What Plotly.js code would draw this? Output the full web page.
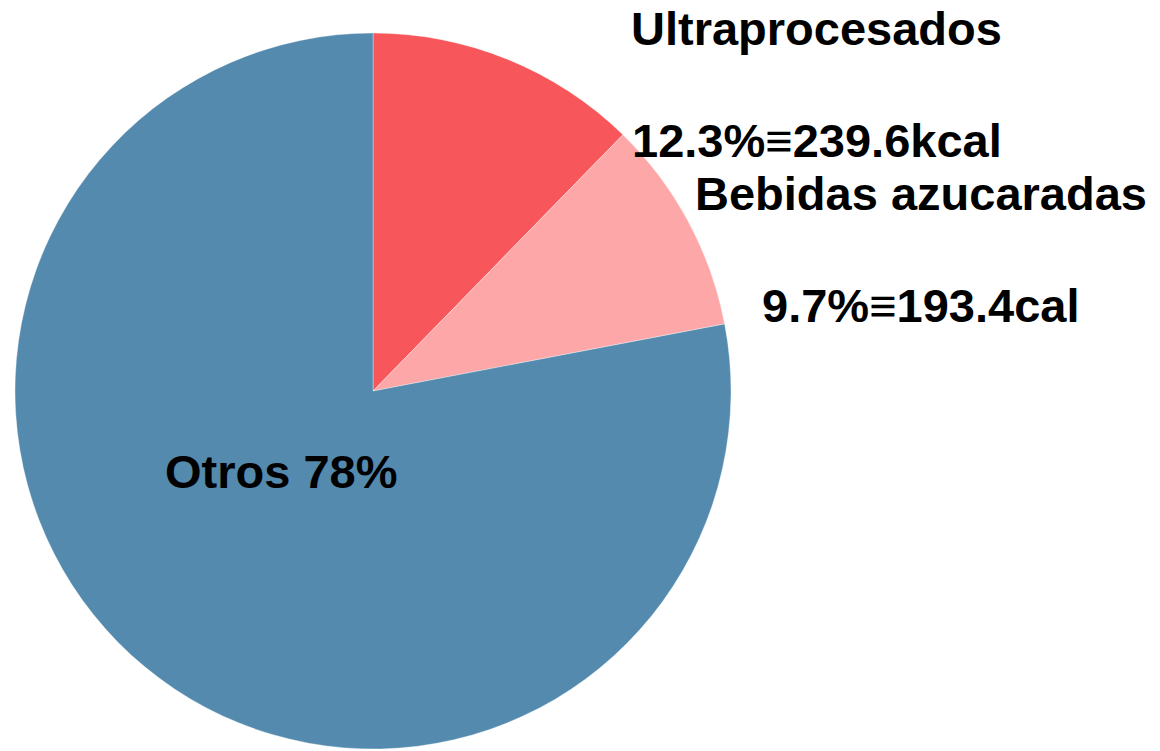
<!DOCTYPE html>
<html>
<head>
<meta charset="utf-8">
<script src="https://cdn.plot.ly/plotly-3.0.1.min.js"></script>
<style>html,body{margin:0;padding:0;background:#fff;}#chart{width:1160px;height:751px;}</style>
</head>
<body>
<div id="chart"></div>
<script>
const categories = ["Ultraprocesados", "Bebidas azucaradas", "Otros"];
const percentages = [12.3, 9.7, 78];
const sliceColors = ["#F7575A", "#FDA7A8", "#548AAE"];
const labelTexts = ["Ultraprocesados", "12.3%≡239.6kcal", "Bebidas azucaradas", "9.7%≡193.4cal", "Otros 78%"];

const W = 1160, H = 751;
const cx = 373, cy = 391, R = 358;

const trace = {
  type: "pie",
  labels: categories,
  values: percentages,
  sort: false,
  direction: "clockwise",
  rotation: 0,
  textinfo: "none",
  hoverinfo: "label+percent",
  marker: { colors: sliceColors, line: { color: "rgba(255,255,255,0.35)", width: 1 } },
  domain: { x: [(cx - R) / W, (cx + R) / W], y: [(H - (cy + R)) / H, (H - (cy - R)) / H] },
  showlegend: false
};

const font = { family: "Liberation Sans, Arial, sans-serif", size: 47, color: "#000" };
const labelPos = [
  { x: 630, y: 45 },
  { x: 631, y: 157 },
  { x: 694, y: 210 },
  { x: 761, y: 322 },
  { x: 164, y: 488 }
];
const annotations = labelTexts.map((t, i) => ({
  text: "<b>" + t + "</b>",
  xref: "paper", yref: "paper",
  x: labelPos[i].x / W, y: (H - labelPos[i].y - 11) / H,
  xanchor: "left", yanchor: "bottom",
  showarrow: false,
  font: font,
  borderpad: 0
}));

Plotly.newPlot("chart", [trace], {
  width: W, height: H,
  margin: { l: 0, r: 0, t: 0, b: 0 },
  paper_bgcolor: "#fff",
  annotations: annotations
}, { displayModeBar: false, staticPlot: true });
</script>
</body>
</html>
